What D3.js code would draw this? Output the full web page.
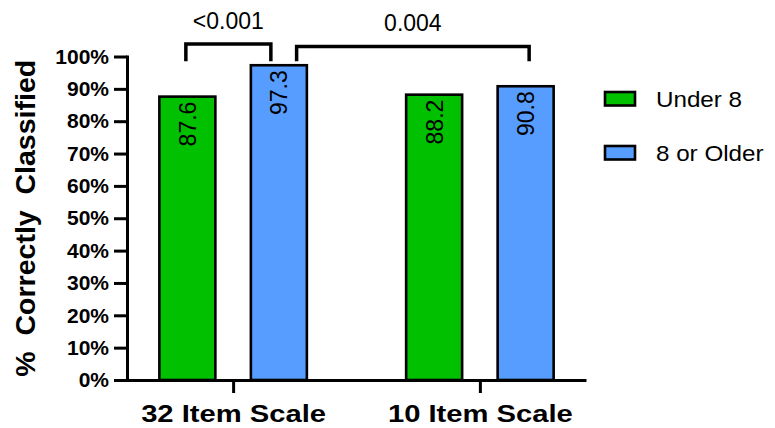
<!DOCTYPE html>
<html lang="en">
  <head>
    <title>Correctly Classified</title>
    <meta charset="UTF-8">
    <script src="https://d3js.org/d3.v7.min.js"></script>
    <style>
      * {
        margin: 0;
        padding: 0;
      }
      body {
        background: white;
      }
      svg {
        display: block;
        font-family: 'Liberation Sans', Arial, sans-serif;
      }
    </style>
  </head>
  <body>
    <script>
      const categories = ['32 Item Scale', '10 Item Scale']
      const series = ['Under 8', '8 or Older']
      const under8 = [87.6, 88.2]
      const older8 = [97.3, 90.8]
      const yTicks = [0, 10, 20, 30, 40, 50, 60, 70, 80, 90, 100]
      // comparison brackets: [category, series] at each end, p-value label
      const comparisons = [
        { from: ['32 Item Scale', 'Under 8'], to: ['32 Item Scale', '8 or Older'], label: '<0.001', top: 103.9, bottom: 98.5 },
        { from: ['32 Item Scale', '8 or Older'], to: ['10 Item Scale', '8 or Older'], label: '0.004', top: 103.1, bottom: 98.5 }
      ]

      const colors = ['#00c000', '#579dff']
      const width = 775
      const height = 428

      const data = categories.map((c, i) => ({
        cat: c,
        values: [under8[i], older8[i]]
      }))

      const x0 = d3.scalePoint()
                   .domain(categories)
                   .range([127, 586])
                   .padding(0.43)
      const x1 = d3.scaleBand()
                   .domain(series)
                   .range([-73.75, 73.75])
                   .paddingInner(0.388)
      const y = d3.scaleLinear()
                  .domain([0, 100])
                  .range([380, 56.5])
      const color = d3.scaleOrdinal().domain(series).range(colors)

      const svg = d3.select('body')
                    .append('svg')
                    .attr('width', width)
                    .attr('height', height)

      // bars
      const groups = svg.selectAll('g.group')
                        .data(data)
                        .enter()
                        .append('g')
                        .attr('class', 'group')
                        .attr('transform', (d) => 'translate(' + x0(d.cat) + ',0)')

      const bars = groups.selectAll('g.bar')
                         .data((d) => d.values.map((v, i) => ({ s: series[i], v: v })))
                         .enter()
                         .append('g')
                         .attr('class', 'bar')

      bars.append('rect')
          .attr('x', (d) => x1(d.s))
          .attr('width', x1.bandwidth())
          .attr('y', (d) => y(d.v))
          .attr('height', (d) => y(0) - y(d.v))
          .attr('fill', (d) => color(d.s))
          .attr('stroke', '#000')
          .attr('stroke-width', 2.6)

      bars.append('text')
          .attr('transform', (d) => 'translate(' + (x1(d.s) + x1.bandwidth() / 2 + 8.5) + ',' + (y(d.v) + 5) + ') rotate(-90)')
          .attr('text-anchor', 'end')
          .attr('font-size', 23)
          .attr('fill', '#000')
          .text((d) => d.v.toFixed(1))

      // y axis
      const yAxis = d3.axisLeft(y)
                      .tickValues(yTicks)
                      .tickFormat((d) => d + '%')
                      .tickSize(13)
                      .tickSizeOuter(0)
                      .tickPadding(5)
      const gy = svg.append('g')
                    .attr('transform', 'translate(127,0)')
                    .call(yAxis)
      gy.select('.domain').attr('stroke-width', 3).attr('stroke-linecap', 'square')
      gy.selectAll('.tick line').attr('stroke-width', 3)
      gy.selectAll('.tick text')
        .attr('font-size', 21)
        .attr('font-weight', 'bold')
        .attr('font-family', "'Liberation Sans', Arial, sans-serif")
        .attr('fill', '#000')

      // x axis
      const xAxis = d3.axisBottom(x0)
                      .tickSize(13)
                      .tickSizeOuter(0)
      const gx = svg.append('g')
                    .attr('transform', 'translate(0,380)')
                    .call(xAxis)
      gx.select('.domain').attr('stroke-width', 3)
      gx.selectAll('.tick line').attr('stroke-width', 3)
      gx.selectAll('.tick text')
        .attr('y', 0)
        .attr('dy', 0)
        .attr('transform', 'translate(0,41.5) scale(1.27,1)')
        .attr('font-size', 23)
        .attr('font-weight', 'bold')
        .attr('font-family', "'Liberation Sans', Arial, sans-serif")
        .attr('fill', '#000')

      // y axis title
      svg.append('text')
         .attr('transform', 'translate(35,' + y(50) + ') rotate(-90)')
         .attr('text-anchor', 'middle')
         .attr('font-size', 28.5)
         .attr('font-weight', 'bold')
         .style('white-space', 'pre')
         .text('%  Correctly  Classified')

      // comparison brackets
      const barCenter = (p) => x0(p[0]) + x1(p[1]) + x1.bandwidth() / 2
      const endOffsets = [[-1.5, -8], [17.75, 3.5]]
      comparisons.forEach((c, i) => {
        const xa = barCenter(c.from) + endOffsets[i][0]
        const xb = barCenter(c.to) + endOffsets[i][1]
        svg.append('path')
           .attr('d', d3.line()([[xa, y(c.bottom)], [xa, y(c.top)], [xb, y(c.top)], [xb, y(c.bottom)]]))
           .attr('fill', 'none')
           .attr('stroke', '#000')
           .attr('stroke-width', 3.5)
        svg.append('text')
           .attr('x', (xa + xb) / 2)
           .attr('y', y(c.top) - 15)
           .attr('text-anchor', 'middle')
           .attr('font-size', 23)
           .text(c.label)
      })

      // legend
      const legend = svg.selectAll('g.legend')
                        .data(series)
                        .enter()
                        .append('g')
                        .attr('class', 'legend')
                        .attr('transform', (d, i) => 'translate(605,' + (92 + i * 54) + ')')
      legend.append('rect')
            .attr('width', 30)
            .attr('height', 13.5)
            .attr('fill', (d) => color(d))
            .attr('stroke', '#000')
            .attr('stroke-width', 2.6)
      legend.append('text')
            .attr('transform', 'translate(51,15) scale(1.1,1)')
            .attr('font-size', 22)
            .text((d) => d)
    </script>
  </body>
</html>
